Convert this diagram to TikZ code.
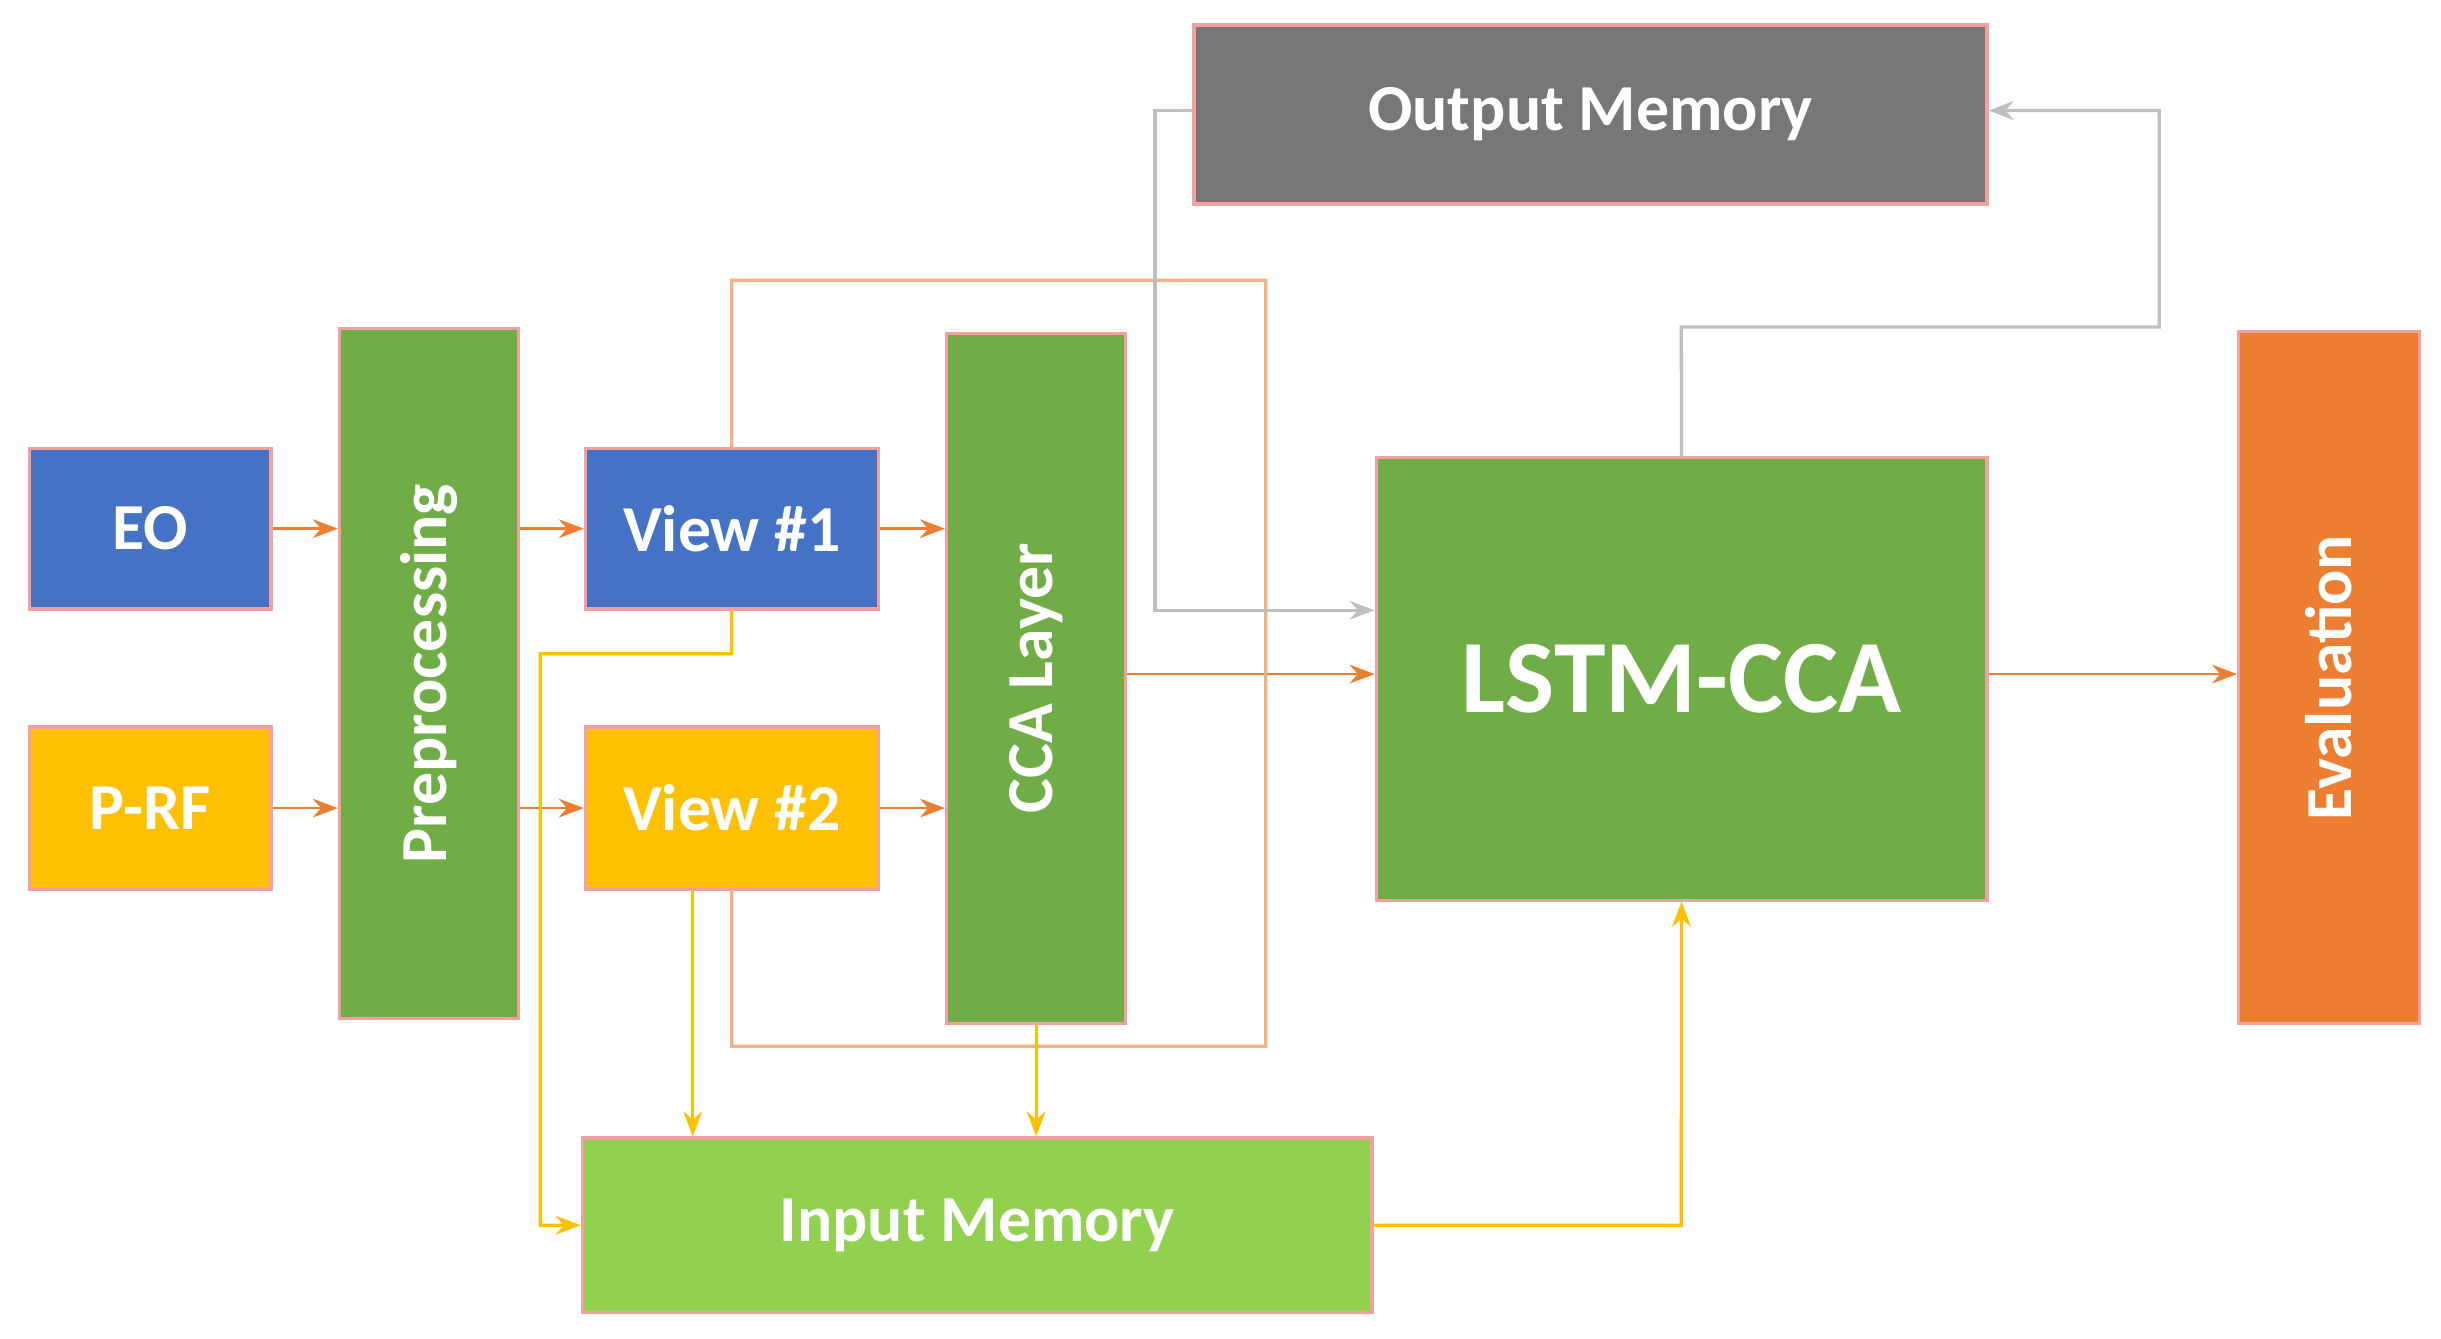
\documentclass[tikz,border=0pt]{standalone}
\usepackage{fontspec}
\setmainfont{Carlito}
\usetikzlibrary{arrows.meta,positioning}
\definecolor{eoblue}{HTML}{4472C4}
\definecolor{rfgold}{HTML}{FFC000}
\definecolor{blockgreen}{HTML}{70AD47}
\definecolor{memgreen}{HTML}{92D050}
\definecolor{memgray}{HTML}{777777}
\definecolor{evalorange}{HTML}{ED7D31}
\definecolor{edgered}{HTML}{F4A0A0}
\definecolor{flowline}{HTML}{F4B183}
\definecolor{memline}{HTML}{FFC000}
\definecolor{backline}{HTML}{BFBFBF}
\begin{document}
\begin{tikzpicture}[x=0.01cm,y=-0.01cm,>={Stealth[length=1.6mm]},
    block/.style={draw=edgered,line width=0.6pt,text=white,font=\bfseries\fontsize{12}{14}\selectfont,
        inner sep=0pt,anchor=north west},
    flow/.style={->,draw=evalorange,line width=0.5pt},
    mem/.style={->,draw=memline,line width=0.6pt},
    back/.style={->,draw=backline,line width=0.6pt},
    loop/.style={draw=flowline,line width=0.6pt}
]
 \useasboundingbox (0,0) rectangle (1568,860);
 \node[block,fill=memgray,minimum width=5.09cm,minimum height=1.15cm] (om) at (766,15) {Output Memory};
 \node[block,fill=eoblue,minimum width=1.55cm,minimum height=1.03cm] (eo) at (18,287) {EO};
 \node[block,fill=rfgold,minimum width=1.55cm,minimum height=1.04cm] (rf) at (18,466) {P-RF};
 \node[block,fill=blockgreen,minimum width=1.15cm,minimum height=4.43cm] (pre) at (217,210) {};
 \node[rotate=90,text=white,font=\bfseries\fontsize{12}{14}\selectfont] at (pre.center) {Preprocessing};
 \node[block,fill=eoblue,minimum width=1.88cm,minimum height=1.03cm] (v1) at (375,287) {View \#1};
 \node[block,fill=rfgold,minimum width=1.88cm,minimum height=1.04cm] (v2) at (375,466) {View \#2};
 \node[block,fill=blockgreen,minimum width=1.15cm,minimum height=4.43cm] (cca) at (607,213) {};
 \node[rotate=90,text=white,font=\bfseries\fontsize{12}{14}\selectfont] at (cca.center) {CCA Layer};
 \node[block,fill=blockgreen,minimum width=3.92cm,minimum height=2.84cm,font=\bfseries\fontsize{19}{22}\selectfont] (lstm) at (883,293) {LSTM-CCA};
 \node[block,fill=evalorange,minimum width=1.16cm,minimum height=4.44cm] (ev) at (1437,212) {};
 \node[rotate=90,text=white,font=\bfseries\fontsize{12}{14}\selectfont] at (ev.center) {Evaluation};
 \node[block,fill=memgreen,minimum width=5.07cm,minimum height=1.12cm] (im) at (373,730) {Input Memory};

 % forward path
 \draw[flow] (eo) -- (eo-|pre.west);
 \draw[flow] (rf) -- (rf-|pre.west);
 \draw[flow] (eo-|pre.east) -- (v1);
 \draw[flow] (rf-|pre.east) -- (v2);
 \draw[flow] (v1) -- (v1-|cca.west);
 \draw[flow] (v2) -- (v2-|cca.west);
 \draw[flow] (cca.east|-0,433) -- (lstm.west|-0,433);
 \draw[flow] (lstm.east|-0,433) -- (ev.west|-0,433);

 % view loop
 \draw[loop] (v1.north) -- (470,180) -- (813,180) -- (813,672) -- (470,672) -- (v2.south);

 % memory
 \draw[mem] (v1.south) -- (470,420) -- (347,420) -- (347,787) -- (im.west|-0,787);
 \draw[mem] (v2.south-|445,0) -- (im.north-|445,0);
 \draw[mem] (cca.south) -- (im.north-|cca.south);
 \draw[mem] (im.east|-0,787) -- (1080,787) -- (lstm.south);
 \draw[back] (lstm.north) -- (1080,210) -- (1387,210) -- (1387,71) -- (om.east|-0,71);
 \draw[back] (om.west|-0,71) -- (742,71) -- (742,392) -- (lstm.west|-0,392);
\end{tikzpicture}
\end{document}
